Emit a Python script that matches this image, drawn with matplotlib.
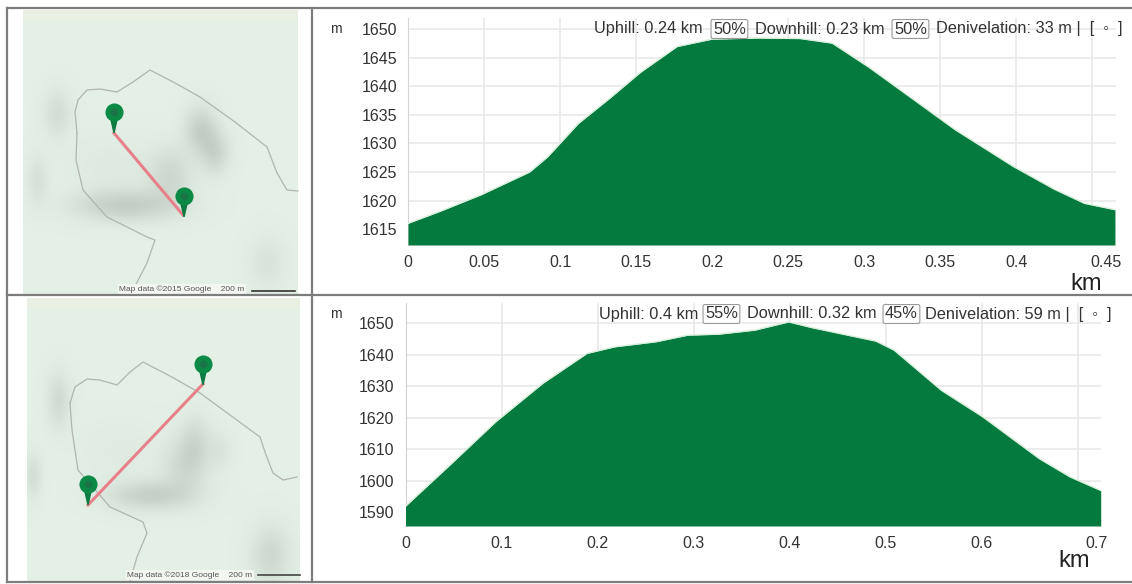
import numpy as np
import matplotlib
matplotlib.use("Agg")
import matplotlib.pyplot as plt
from matplotlib.transforms import ScaledTranslation

plt.rcParams['font.family'] = ['Liberation Sans', 'DejaVu Sans']
W, H = 1132, 584

# elevation profiles (km, m)
dist_top = [0, .020, .048, .080, .092, .112, .133, .153, .177, .200, .230, .258, .279, .303, .330, .360, .398, .425, .445, .465]
elev_top = [1616, 1618, 1621, 1625, 1627.7, 1633.5, 1638, 1642.5, 1647, 1648.3, 1648.5, 1648.4, 1647.6, 1643.4, 1638.2, 1632.4, 1626, 1622, 1619.5, 1618.4]
dist_bot = [0, .046, .094, .143, .189, .218, .261, .294, .326, .364, .399, .423, .490, .509, .558, .601, .660, .692, .724]
elev_bot = [1592, 1605, 1618.8, 1631, 1640.5, 1642.6, 1644.2, 1646.3, 1646.6, 1647.9, 1650.5, 1648.7, 1644.4, 1641.5, 1628.8, 1620.4, 1607.1, 1601.3, 1597]

xticks_top = [0, .05, .1, .15, .2, .25, .3, .35, .4, .45]
xlabels_top = ['0', '0.05', '0.1', '0.15', '0.2', '0.25', '0.3', '0.35', '0.4', '0.45']
yticks_top = [1615, 1620, 1625, 1630, 1635, 1640, 1645, 1650]
xticks_bot = [0, .1, .2, .3, .4, .5, .6, .7]
xlabels_bot = ['0', '0.1', '0.2', '0.3', '0.4', '0.5', '0.6', '0.7']
yticks_bot = [1590, 1600, 1610, 1620, 1630, 1640, 1650]

# map decoration, in pixel positions
road_top = [(77,133),(75,112),(78,100),(87,90),(100,89),(117,92),(133,82),(150,70),(175,83),(200,97),(235,122),(267,147),(272,160),(277,173),(287,190),(298,191)]
road_top2 = [(77,133),(76,160),(83,190),(107,217),(147,237),(155,240),(147,263),(133,290)]
road_bot = [(70,403),(75,387),(87,379),(100,380),(117,385),(130,372),(143,362),(170,376),(200,393),(230,415),(260,437),(266,455),(273,473),(283,480),(297,477)]
road_bot2 = [(70,403),(72,430),(78,470),(110,507),(143,522),(147,533),(137,557),(130,581)]
blobs_top = [(125,205,50,16,.26),(170,175,22,28,.18),(200,130,16,24,.24),(215,152,14,22,.20),(57,113,14,24,.14),(37,180,10,24,.12),(267,262,18,26,.10),(110,165,45,30,.05)]
blobs_bot = [(150,495,42,15,.24),(185,465,22,28,.18),(195,440,15,26,.14),(220,450,12,20,.08),(58,400,12,28,.16),(33,475,8,22,.14),(270,555,20,30,.18),(120,450,40,30,.04)]


def px_axes(l, t, r, b):
    return fig.add_axes([l / W, 1 - b / H, (r - l) / W, (b - t) / H])


def profile(box, xs, ys, xlim, ylim, xticks, xlabels, yticks, shift):
    ax = px_axes(*box)
    ax.fill_between(xs, ys, ylim[0], color='#047a3f', lw=0, zorder=3)
    ax.plot(xs, ys, color='#d9efdc', lw=1, zorder=3)
    ax.set_xlim(*xlim)
    ax.set_ylim(*ylim)
    ax.set_xticks(xticks, xlabels)
    ax.set_yticks(yticks)
    ax.grid(color='#e9e9e9', lw=1.2)
    ax.set_axisbelow(True)
    for s in ('top', 'right', 'bottom'):
        ax.spines[s].set_visible(False)
    ax.spines['left'].set_color('#d4d4d4')
    ax.tick_params(length=0, labelsize=11.5, labelcolor='#333333', pad=7)
    ax.tick_params(axis='y', pad=8)
    last = ax.get_xticklabels()[-1]
    last.set_transform(last.get_transform() + ScaledTranslation(shift / 100, 0, fig.dpi_scale_trans))
    return ax


def gauss_map(ov, box, blobs):
    l, t, r, b = box
    X, Y = np.meshgrid(np.arange(l, r), np.arange(t, b))
    shade = np.zeros_like(X, dtype=float)
    for cx, cy, sx, sy, a in blobs:
        shade += a * np.exp(-((X - cx) / sx) ** 2 - ((Y - cy) / sy) ** 2)
    base = np.array([0.895, 0.94, 0.90])
    dark = np.array([0.42, 0.44, 0.42])
    img = base + (dark - base) * np.clip(shade, 0, 1)[..., None]
    img[: 10] = img[: 10] * 0.35 + np.array([0.93, 0.94, 0.89]) * 0.65
    ov.imshow(img, extent=(l, r, b, t), zorder=1, aspect='auto')


def pin(ov, x, y):
    ov.fill([x - .7, x - 5, x + 5, x + .7], [y, y - 19, y - 19, y], color='#0d7a42', lw=0, zorder=5)
    ov.scatter([x], [y - 21], s=170, color='#0b8a45', lw=0, zorder=6)
    ov.scatter([x], [y - 21], s=30, color='#1a7445', lw=0, zorder=7)


def header(ov, items, y):
    for x, s, boxed in items:
        kw = dict(bbox=dict(boxstyle='round,pad=0.12', fc='white', ec='#999999', lw=.8)) if boxed else {}
        ov.text(x, y, s, fontsize=11.8, color='#333333', va='center', ha='left', zorder=9, **kw)


fig = plt.figure(figsize=(W / 100, H / 100), dpi=100, facecolor='white')

ax1 = profile((408, 18, 1116, 245), dist_top, elev_top, (0, .4657), (1612.2, 1652), xticks_top, xlabels_top, yticks_top, 14)
ax2 = profile((405.5, 303, 1101, 526), dist_bot, elev_bot, (0, .7243), (1585.7, 1656.5), xticks_bot, xlabels_bot, yticks_bot, 19)

ov = fig.add_axes([0, 0, 1, 1], facecolor='none')
ov.set_axis_off()

gauss_map(ov, (23, 10, 298, 294), blobs_top)
gauss_map(ov, (27, 298, 300, 582), blobs_bot)
ov.set_xlim(0, W)
ov.set_ylim(H, 0)

for road in (road_top, road_top2, road_bot, road_bot2):
    ov.plot(*zip(*road), color='#b0b5b0', lw=.9, zorder=2)

ov.plot([114, 183], [133, 215], color='#e8808a', lw=2.2, zorder=4)
ov.plot([88, 203], [505, 384], color='#e8808a', lw=2.2, zorder=4)
pin(ov, 114, 133)
pin(ov, 184, 217)
pin(ov, 88, 505)
pin(ov, 203, 385)

ov.text(182, 289, 'Map data ©2015 Google    200 m', fontsize=6, color='#555555', ha='center', va='center', zorder=3,
        bbox=dict(fc='#f4f6f2', ec='none', pad=1))
ov.text(190, 575, 'Map data ©2018 Google    200 m', fontsize=6, color='#555555', ha='center', va='center', zorder=3,
        bbox=dict(fc='#f4f6f2', ec='none', pad=1))
ov.plot([252, 295], [291, 291], color='#333333', lw=1.2, zorder=4)
ov.plot([258, 300], [575, 575], color='#444444', lw=1.2, zorder=4)

for xs, ys in [([7, W], [8, 8]), ([7, W], [295, 295]), ([7, W], [582, 582]), ([7, 7], [8, 582]), ([312, 312], [8, 582])]:
    ov.plot(xs, ys, color='#7d7d7d', lw=1.6, zorder=8)

header(ov, [(594, 'Uphill: 0.24 km', False), (713, '50%', True), (755, 'Downhill: 0.23 km', False),
            (894, '50%', True), (936, 'Denivelation: 33 m |  [  ◦  ]', False)], 29)
header(ov, [(599, 'Uphill: 0.4 km', False), (705, '55%', True), (747, 'Downhill: 0.32 km', False),
            (885, '45%', True), (925, 'Denivelation: 59 m |  [  ◦  ]', False)], 314)

ov.text(336, 29, 'm', fontsize=10, color='#333333', ha='center', va='center', zorder=9)
ov.text(336, 314, 'm', fontsize=10, color='#333333', ha='center', va='center', zorder=9)
ov.text(1086, 284, 'km', fontsize=17, color='#222222', ha='center', va='center', zorder=9)
ov.text(1074, 561, 'km', fontsize=17, color='#222222', ha='center', va='center', zorder=9)

fig.savefig('out.png', dpi=100)
